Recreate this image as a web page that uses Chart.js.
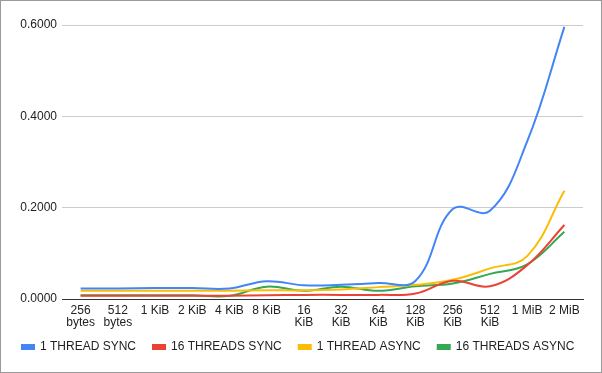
<!DOCTYPE html>
<html>
<head>
<meta charset="utf-8">
<script src="https://cdn.jsdelivr.net/npm/chart.js@4/dist/chart.umd.min.js"></script>
<style>
  html, body { margin: 0; padding: 0; background: #fff; }
  #wrap { width: 602px; height: 373px; box-sizing: border-box; border: 1px solid #9a9a9a; }
</style>
</head>
<body>
<div id="wrap"><canvas id="grafico"></canvas></div>
<script>
const etiquetas = [["256", "bytes"], ["512", "bytes"], "1 KiB", "2 KiB", "4 KiB", "8 KiB",
  ["16", "KiB"], ["32", "KiB"], ["64", "KiB"], ["128", "KiB"], ["256", "KiB"], ["512", "KiB"], "1 MiB", "2 MiB"];

const unHiloSync    = [0.023, 0.023, 0.024, 0.024, 0.023, 0.039, 0.030, 0.031, 0.035, 0.040, 0.197, 0.193, 0.345, 0.596];
const dieciseisSync = [0.007, 0.007, 0.007, 0.007, 0.007, 0.008, 0.009, 0.009, 0.009, 0.012, 0.040, 0.028, 0.074, 0.162];
const unHiloAsync   = [0.018, 0.018, 0.018, 0.018, 0.018, 0.019, 0.019, 0.021, 0.026, 0.031, 0.042, 0.067, 0.094, 0.237];
const dieciseisAsync= [0.008, 0.008, 0.008, 0.008, 0.007, 0.027, 0.018, 0.027, 0.018, 0.028, 0.034, 0.055, 0.076, 0.147];

const ticksY = [0, 0.2, 0.4, 0.6];

const fuente = "'Liberation Sans', Arial, sans-serif";

function serie(nombre, color, datos) {
  return {
    label: nombre,
    data: datos,
    borderColor: color,
    backgroundColor: color,
    borderWidth: 2,
    pointRadius: 0,
    tension: 0.4,
    fill: false
  };
}

// la leyenda ocupa menos alto que el que calcula Chart.js y sube un poco
const alturaLeyenda = {
  id: "alturaLeyenda",
  beforeInit(chart) {
    const fitOriginal = chart.legend.fit;
    chart.legend.fit = function () {
      fitOriginal.bind(chart.legend)();
      this.height = 37;
    };
  },
  afterLayout(chart) {
    chart.legend.top -= 5;
    chart.legend.bottom -= 5;
  }
};

const ctx = document.getElementById("grafico").getContext("2d");
const grafico = new Chart(ctx, {
  type: "line",
  data: {
    labels: etiquetas,
    datasets: [
      serie("1 THREAD SYNC", "#4285f4", unHiloSync),
      serie("16 THREADS SYNC", "#ea4335", dieciseisSync),
      serie("1 THREAD ASYNC", "#fbbc04", unHiloAsync),
      serie("16 THREADS ASYNC", "#34a853", dieciseisAsync)
    ]
  },
  plugins: [alturaLeyenda],
  options: {
    animation: false,
    responsive: true,
    maintainAspectRatio: false,
    layout: { padding: { left: 4, right: 0, top: 24, bottom: 6 } },
    plugins: {
      tooltip: { enabled: false },
      legend: {
        position: "bottom",
        align: "start",
        labels: {
          boxWidth: 12,
          boxHeight: 4,
          padding: 17,
          color: "#222",
          font: { family: fuente, size: 12 }
        }
      }
    },
    scales: {
      x: {
        offset: true,
        afterFit: (eje) => { eje.height = 30; },
        grid: { display: false, drawTicks: false },
        border: { color: "#333", width: 1 },
        ticks: {
          padding: 6,
          color: "#222",
          maxRotation: 0,
          autoSkip: false,
          font: { family: fuente, size: 12, lineHeight: 1 }
        }
      },
      y: {
        min: 0,
        max: 0.6,
        afterBuildTicks: (eje) => { eje.ticks = ticksY.map(v => ({ value: v })); },
        afterFit: (eje) => { eje.width = 57; },
        grid: { color: "#cccccc", drawTicks: false },
        border: { display: false },
        ticks: {
          padding: 5,
          color: "#222",
          font: { family: fuente, size: 12 },
          callback: (v) => Number(v).toFixed(4)
        }
      },
      margenDer: {
        position: "right",
        grid: { display: false },
        border: { display: false },
        ticks: { display: false },
        afterFit: (eje) => { eje.width = 18; }
      }
    }
  }
});
</script>
</body>
</html>
